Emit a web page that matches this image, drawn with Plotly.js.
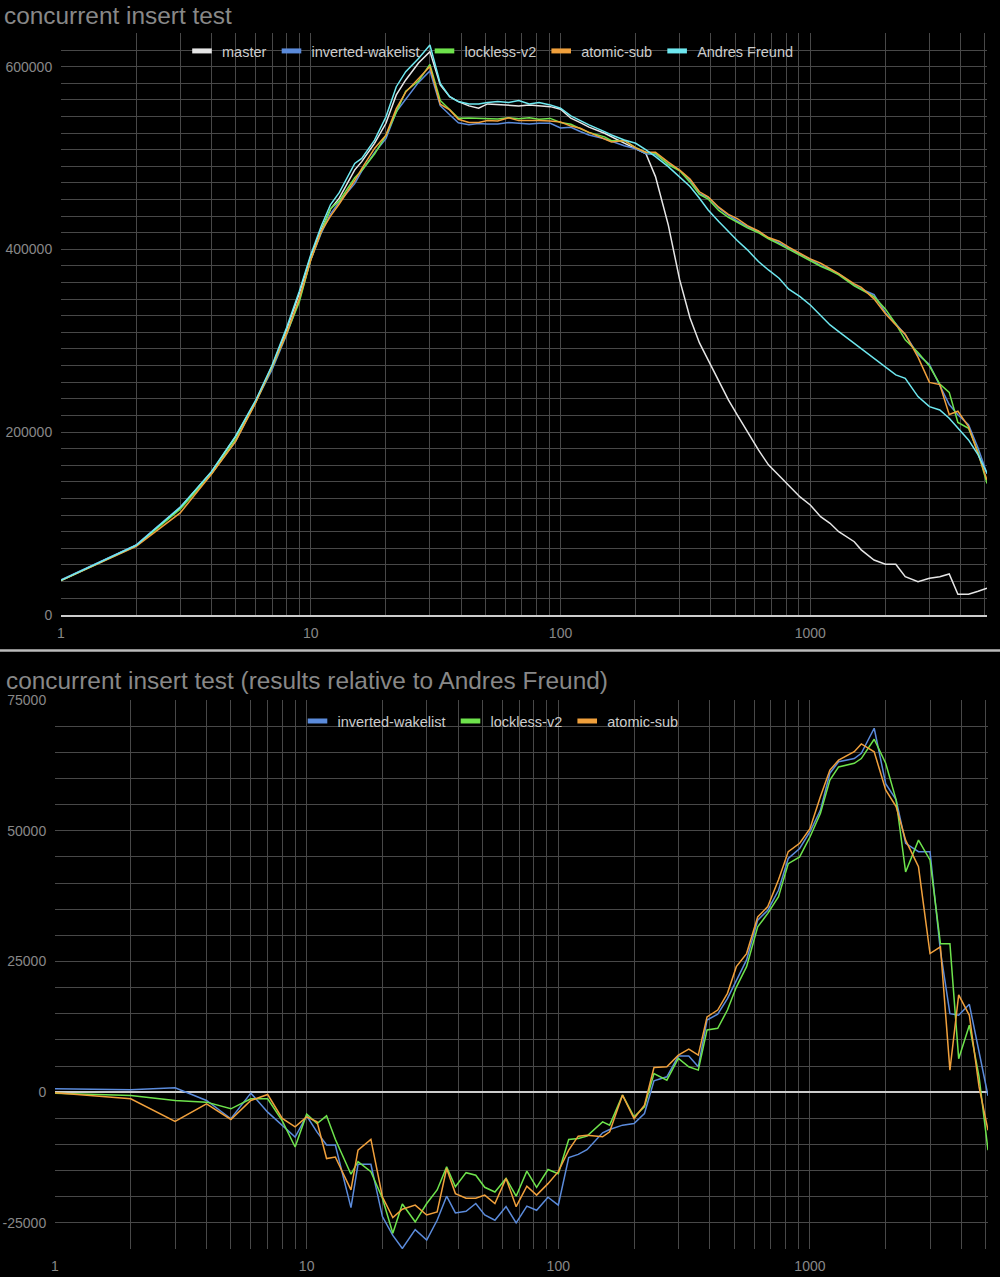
<!DOCTYPE html>
<html>
<head>
<meta charset="utf-8">
<script src="https://cdn.plot.ly/plotly-3.0.1.min.js"></script>
<style>
  html, body { margin: 0; padding: 0; background: #000; }
  #chart { width: 1000px; height: 1277px; }
</style>
</head>
<body>
<div id="chart"></div>
<script>
// client counts (x axis, log scale)
const clients = [1, 2, 3, 4, 5, 6, 7, 8, 9, 10,
  11, 12, 13, 15, 16, 18, 20, 22, 24, 27,
  30, 33, 36, 39, 43, 47, 51, 56, 62, 68,
  75, 82, 91, 100, 110, 120, 130, 150, 160, 180,
  200, 220, 240, 270, 300, 330, 360, 390, 430, 470,
  510, 560, 620, 680, 750, 820, 910, 1000, 1100, 1200,
  1300, 1500, 1600, 1800, 2000, 2200, 2400, 2700, 3000, 3300,
  3600, 3900, 4300, 4700, 5100];

// top chart: absolute results
const master = [37500, 76000, 117000, 156000, 195000, 233000, 272000, 312000, 352000, 392000,
  421000, 444000, 456000, 487000, 496000, 516000, 538000, 569000, 585400, 604000,
  616400, 580000, 567100, 561700, 557000, 554400, 559200, 558500, 557500, 557000,
  558000, 557000, 556200, 553400, 543500, 538700, 533700, 527100, 523400, 516800,
  510700, 504400, 479600, 426700, 366500, 324900, 297500, 278900, 254800, 235100,
  218700, 200100, 180400, 164000, 152000, 141000, 128900, 120100, 107300, 100100,
  90900, 79900, 71000, 59900, 55200, 55200, 41600, 36100, 39900, 41600,
  44600, 22300, 22300, 25600, 28900];

const invertedWakelist = [38140, 76440, 117830, 154410, 189900, 232810, 268170, 306620, 344390, 388470,
  417350, 438900, 451900, 471900, 485700, 505700, 521200, 550600, 564600, 582700,
  595300, 557200, 547300, 538600, 536300, 537800, 537100, 537200, 538700, 537800,
  537300, 538000, 538000, 532900, 533500, 529000, 525200, 521020, 518060, 513390,
  510110, 504720, 503670, 493430, 486490, 475590, 460750, 456900, 445300, 437300,
  431000, 424700, 419500, 412200, 406900, 401000, 394800, 388900, 382100, 378200,
  373100, 360900, 356500, 350300, 330600, 318400, 306400, 284800, 273800, 251100,
  230000, 218800, 208100, 182300, 154100];

const locklessV2 = [37310, 75360, 115410, 154090, 191810, 231720, 270720, 307500, 342500, 388790,
  419000, 444470, 453000, 478300, 486200, 504300, 524700, 551000, 573100, 584200,
  602300, 563000, 552900, 543600, 543700, 543200, 542400, 542600, 544100, 542900,
  544000, 542400, 543300, 538900, 536950, 532040, 527780, 523120, 518890, 519130,
  511380, 505990, 505070, 492800, 486040, 473550, 460110, 455000, 442600, 435100,
  429700, 423400, 418200, 411600, 405700, 400000, 393200, 387900, 381500, 376900,
  372100, 360000, 355500, 348200, 334500, 318400, 300900, 287000, 272200, 252500,
  243400, 210500, 204100, 177800, 143700];

const atomicSub = [37400, 74720, 111390, 153770, 189770, 231410, 271550, 307960, 346370, 388280,
  419320, 436300, 449600, 475300, 488400, 510450, 525000, 554000, 572100, 587400,
  600100, 558800, 552600, 542300, 538800, 538800, 540900, 540400, 544100, 540900,
  541100, 540900, 540600, 539300, 534900, 532480, 527970, 520260, 517610, 519130,
  511060, 506310, 506220, 495350, 486680, 476930, 462980, 457500, 446100, 438300,
  433600, 425900, 420100, 412900, 408900, 402300, 395800, 389500, 384700, 378800,
  373400, 362200, 358300, 345800, 329400, 317100, 307000, 281900, 254300, 251900,
  219200, 222700, 206000, 175900, 147500];

const andresFreund = [37500, 76000, 117500, 156500, 195500, 234000, 273000, 314000, 354000, 394000,
  425000, 449000, 462000, 494000, 499500, 519500, 545000, 578000, 594500, 609000,
  623600, 581700, 567200, 561700, 559100, 559100, 560600, 561700, 560600, 562800,
  559100, 560600, 558100, 554500, 546000, 540900, 536200, 528800, 525200, 519700,
  516100, 508800, 501500, 490500, 479600, 468700, 455900, 443100, 430400, 419400,
  409600, 399400, 386600, 377400, 368300, 356300, 348200, 339100, 328200, 317200,
  309900, 297100, 291700, 280700, 271600, 262500, 258800, 238800, 227800, 224100,
  215000, 204100, 191300, 174900, 154800];

// bottom chart: results relative to Andres Freund
const invertedWakelistRel = [640, 440, 830, -1590, -5100, -190, -3830, -6380, -8610, -4530,
  -7650, -10100, -10100, -22100, -13800, -13800, -23800, -27400, -29900, -26300,
  -28300, -24500, -19900, -23100, -22800, -21300, -23500, -24500, -21900, -25000,
  -21800, -22600, -20100, -21600, -12500, -11900, -11000, -7780, -7140, -6310,
  -5990, -4080, 2170, 2930, 6890, 6890, 4850, 13800, 14900, 17900,
  21400, 25300, 32900, 34800, 38600, 44700, 46600, 49800, 53900, 61000,
  63200, 63800, 64800, 69600, 59000, 55900, 47600, 46000, 46000, 27000,
  15000, 14700, 16800, 7400, -700];

const locklessV2Rel = [-190, -640, -1590, -1910, -3190, -1280, -1280, -5500, -10500, -4210,
  -6000, -4530, -9000, -15700, -13300, -15200, -20300, -27000, -21400, -24800,
  -21300, -18700, -14300, -18100, -15400, -15900, -18200, -19100, -16500, -19900,
  -15100, -18200, -14800, -15600, -9050, -8860, -8420, -5680, -6310, -570,
  -4720, -2810, 3570, 2300, 6440, 4850, 4210, 11900, 12200, 15700,
  20100, 24000, 31600, 34200, 37400, 43700, 45000, 48800, 53300, 59700,
  62200, 62900, 63800, 67500, 62900, 55900, 42100, 48200, 44400, 28400,
  28400, 6400, 12800, 2900, -11100];

const atomicSubRel = [-100, -1280, -5610, -2230, -5230, -1590, -450, -5040, -6630, -4720,
  -5680, -12700, -12400, -18700, -11100, -9050, -20000, -24000, -22400, -21600,
  -23500, -22900, -14600, -19400, -20300, -20300, -19700, -21300, -16500, -21900,
  -18000, -19700, -17500, -15200, -11100, -8420, -8230, -8540, -7590, -570,
  -5040, -2490, 4720, 4850, 7080, 8230, 7080, 14400, 15700, 18900,
  24000, 26500, 33500, 35500, 40600, 46000, 47600, 50400, 56500, 61600,
  63500, 65100, 66600, 65100, 57800, 54600, 48200, 43100, 26500, 27800,
  4200, 18600, 14700, 1000, -7300];

// tick labels
const topTickVals = [0, 200000, 400000, 600000];
const topTickText = ['0', '200000', '400000', '600000'];
const relTickVals = [-25000, 0, 25000, 50000, 75000];
const relTickText = ['-25000', '0', '25000', '50000', '75000'];

const COLORS = {
  master: '#e6e6e6',
  inverted: '#5b8bdb',
  lockless: '#6ee34c',
  atomic: '#f0a03c',
  andres: '#6ee8f0',
};
const FONT = "'Liberation Sans', Arial, sans-serif";
const GRID = '#484848';

// log gridlines at 1..9 of each decade, labels only on decades
const maxClients = clients[clients.length - 1];
const gridX = [];
const gridXText = [];
for (const decade of [1, 10, 100, 1000]) {
  for (let k = 1; k <= 9; k++) {
    if (decade * k <= maxClients) {
      gridX.push(decade * k);
      gridXText.push(k === 1 ? String(decade) : '');
    }
  }
}

function lineTrace(name, values, color, xa, ya) {
  return {
    type: 'scatter',
    mode: 'lines',
    name: name,
    x: clients,
    y: values,
    xaxis: xa,
    yaxis: ya,
    line: { color: color, width: 1.5 },
    showlegend: false,
    hoverinfo: 'skip',
  };
}

// legend entry only: short thick swatch like the original
function legendKey(name, color, xa, ya, legend) {
  return {
    type: 'scatter',
    mode: 'markers',
    name: name,
    x: [null],
    y: [null],
    xaxis: xa,
    yaxis: ya,
    legend: legend,
    marker: { symbol: 'line-ew', size: 14, color: color, line: { color: color, width: 5 } },
    hoverinfo: 'skip',
  };
}

const data = [
  lineTrace('master', master, COLORS.master, 'x', 'y'),
  lineTrace('inverted-wakelist', invertedWakelist, COLORS.inverted, 'x', 'y'),
  lineTrace('lockless-v2', locklessV2, COLORS.lockless, 'x', 'y'),
  lineTrace('atomic-sub', atomicSub, COLORS.atomic, 'x', 'y'),
  lineTrace('Andres Freund', andresFreund, COLORS.andres, 'x', 'y'),
  lineTrace('inverted-wakelist', invertedWakelistRel, COLORS.inverted, 'x2', 'y2'),
  lineTrace('lockless-v2', locklessV2Rel, COLORS.lockless, 'x2', 'y2'),
  lineTrace('atomic-sub', atomicSubRel, COLORS.atomic, 'x2', 'y2'),

  legendKey('master', COLORS.master, 'x', 'y', 'legend'),
  legendKey('inverted-wakelist', COLORS.inverted, 'x', 'y', 'legend'),
  legendKey('lockless-v2', COLORS.lockless, 'x', 'y', 'legend'),
  legendKey('atomic-sub', COLORS.atomic, 'x', 'y', 'legend'),
  legendKey('Andres Freund', COLORS.andres, 'x', 'y', 'legend'),
  legendKey('inverted-wakelist', COLORS.inverted, 'x2', 'y2', 'legend2'),
  legendKey('lockless-v2', COLORS.lockless, 'x2', 'y2', 'legend2'),
  legendKey('atomic-sub', COLORS.atomic, 'x2', 'y2', 'legend2'),
];

const H = 1277;
const tickFont = { family: FONT, size: 14, color: '#888' };
const legendFont = { family: FONT, size: 14.5, color: '#ccc' };
const titleFont = { family: FONT, size: 24.4, color: '#888' };

function logAxis(domain, anchor, showline) {
  return {
    type: 'log',
    domain: domain,
    anchor: anchor,
    range: [0, Math.log10(maxClients)],
    tickmode: 'array',
    tickvals: gridX,
    ticktext: gridXText,
    showgrid: true,
    gridcolor: GRID,
    gridwidth: 1,
    ticks: 'outside',
    ticklen: 4,
    tickcolor: 'rgba(0,0,0,0)',
    tickfont: tickFont,
    showline: showline,
    linecolor: '#ccc',
    linewidth: 2,
    zeroline: false,
    fixedrange: true,
  };
}

const topStep = 200000 / 11;

const layout = {
  width: 1000,
  height: H,
  margin: { l: 0, r: 0, t: 0, b: 0 },
  paper_bgcolor: '#000',
  plot_bgcolor: '#000',
  hovermode: false,
  title: {
    text: 'concurrent insert test',
    font: titleFont,
    x: 0.004,
    xanchor: 'left',
    xref: 'paper',
    y: 1 - 15 / H,
    yref: 'container',
    yanchor: 'middle',
  },
  xaxis: logAxis([0.061, 0.987], 'y', true),
  xaxis2: logAxis([0.055, 0.988], 'y2', false),
  yaxis: {
    domain: [1 - 614.7 / H, 1 - 33.4 / H],
    anchor: 'x',
    range: [0, 35 * topStep],
    tickmode: 'array',
    tickvals: topTickVals,
    ticktext: topTickText,
    showgrid: true,
    gridcolor: GRID,
    minor: { tickmode: 'linear', tick0: 0, dtick: topStep, showgrid: true, gridcolor: GRID, gridwidth: 1 },
    ticks: 'outside',
    ticklen: 5,
    tickcolor: 'rgba(0,0,0,0)',
    tickfont: tickFont,
    zeroline: false,
    fixedrange: true,
  },
  yaxis2: {
    domain: [1 - 1249 / H, 1 - 700 / H],
    anchor: 'x2',
    range: [-30000, 75000],
    tickmode: 'array',
    tickvals: relTickVals,
    ticktext: relTickText,
    showgrid: true,
    gridcolor: GRID,
    minor: { tickmode: 'linear', tick0: 0, dtick: 5000, showgrid: true, gridcolor: GRID, gridwidth: 1 },
    ticks: 'outside',
    ticklen: 5,
    tickcolor: 'rgba(0,0,0,0)',
    tickfont: tickFont,
    zeroline: true,
    zerolinecolor: '#ccc',
    zerolinewidth: 2,
    fixedrange: true,
  },
  legend: {
    orientation: 'h',
    x: 0.4905,
    xanchor: 'center',
    y: 1 - 51 / H,
    yanchor: 'middle',
    font: legendFont,
    bgcolor: 'rgba(0,0,0,0)',
    traceorder: 'normal',
  },
  legend2: {
    orientation: 'h',
    x: 0.4905,
    xanchor: 'center',
    y: 1 - 721 / H,
    yanchor: 'middle',
    font: legendFont,
    bgcolor: 'rgba(0,0,0,0)',
    traceorder: 'normal',
  },
  annotations: [{
    text: 'concurrent insert test (results relative to Andres Freund)',
    font: titleFont,
    xref: 'paper',
    yref: 'paper',
    x: 0.004,
    xanchor: 'left',
    y: 1 - 681 / H,
    yanchor: 'middle',
    showarrow: false,
  }],
  shapes: [{
    type: 'line',
    xref: 'paper',
    yref: 'paper',
    x0: 0,
    x1: 1,
    y0: 1 - 650.5 / H,
    y1: 1 - 650.5 / H,
    line: { color: '#bbb', width: 2.5 },
  }],
};

Plotly.newPlot('chart', data, layout, { displayModeBar: false, staticPlot: true });
</script>
</body>
</html>
